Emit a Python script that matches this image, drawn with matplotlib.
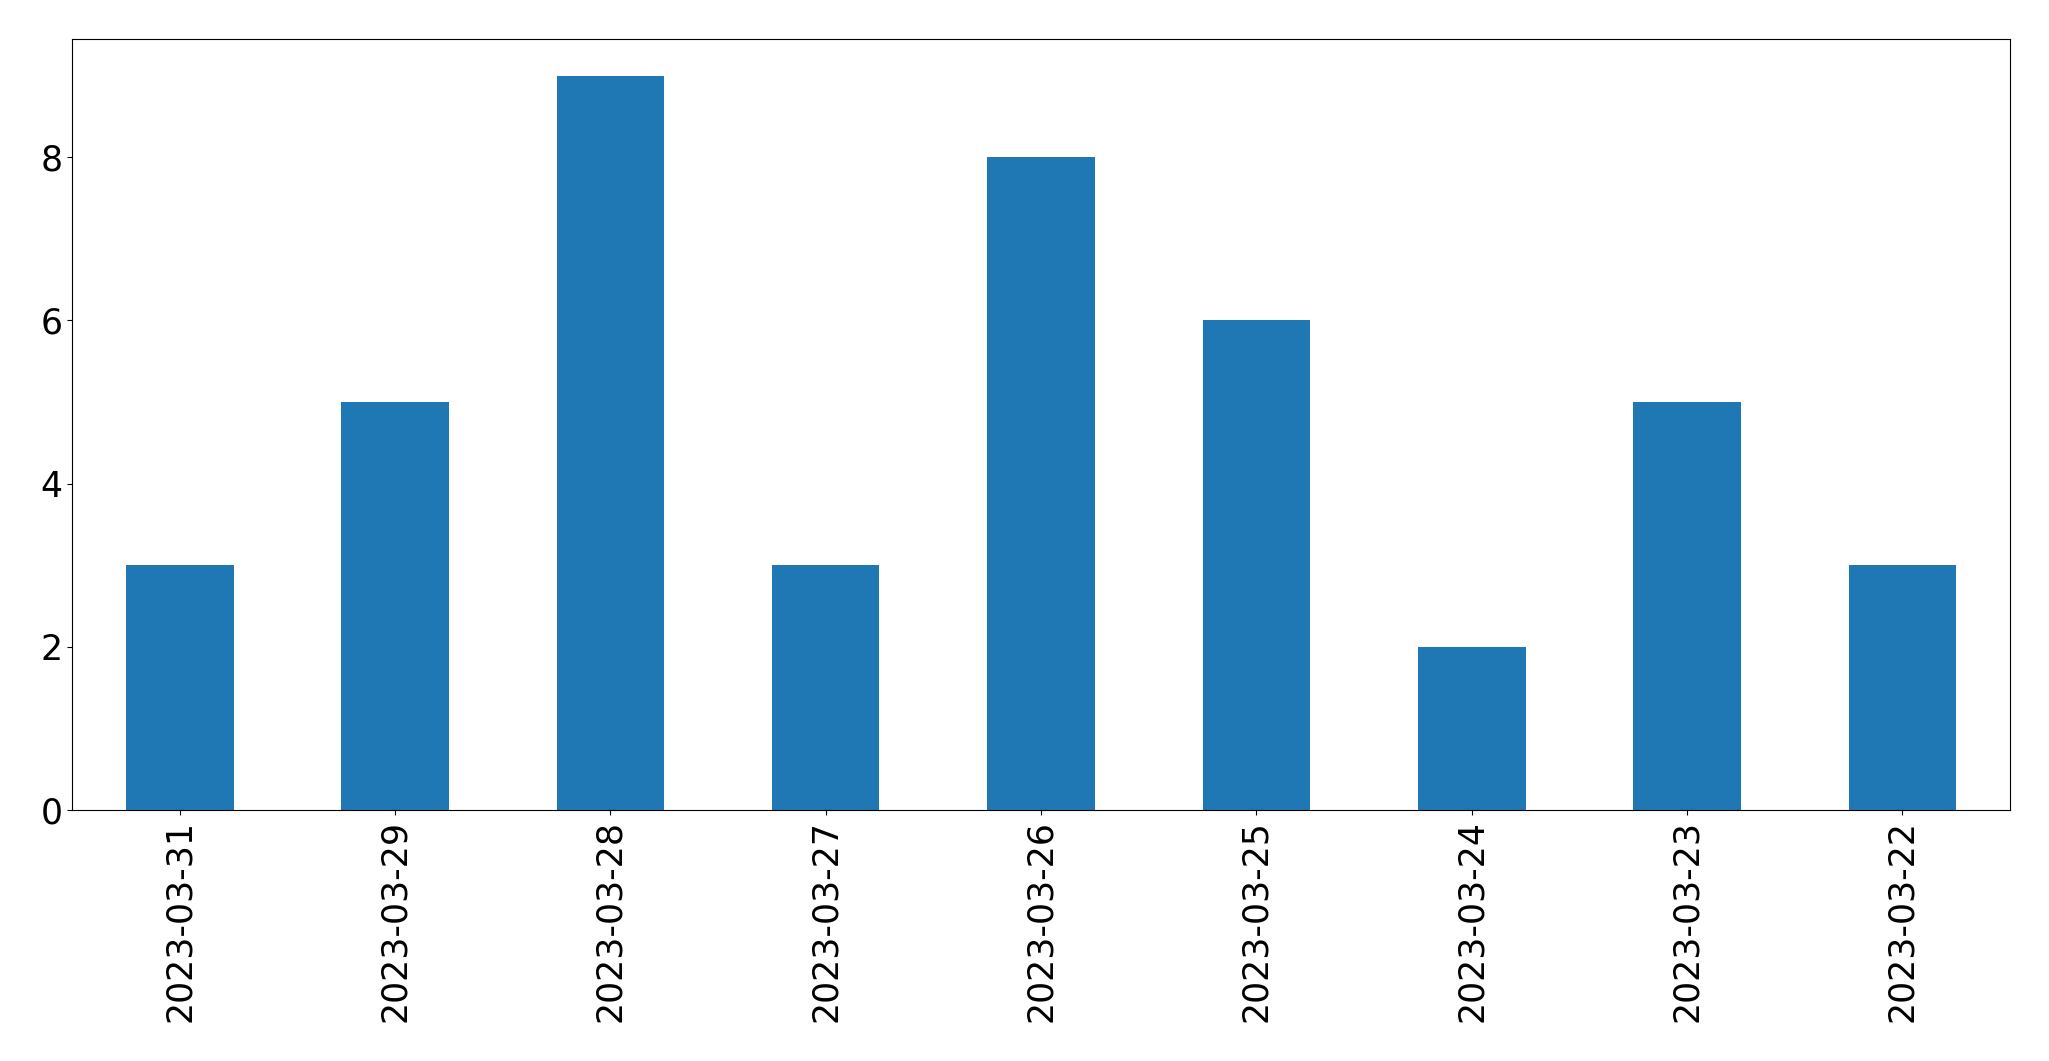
import matplotlib
matplotlib.use("Agg")
import matplotlib.pyplot as plt

dates = ["2023-03-31", "2023-03-29", "2023-03-28", "2023-03-27", "2023-03-26",
         "2023-03-25", "2023-03-24", "2023-03-23", "2023-03-22"]
counts = [3, 5, 9, 3, 8, 6, 2, 5, 3]

fig = plt.figure(figsize=(20.49, 10.61), dpi=100)
ax = fig.add_axes([72/2049, 1 - 810/1061, (2010-72)/2049, (810-39)/1061])
x = list(range(len(dates)))
ax.bar(x, counts, width=0.5, color="#1f77b4")
ax.set_xlim(-0.5, len(dates) - 0.5)
ax.set_ylim(0, 9.45)
ax.set_xticks(x)
ax.set_xticklabels(dates, rotation=90)
ax.set_yticks([0, 2, 4, 6, 8])
ax.tick_params(axis="both", labelsize=25)
fig.savefig("out.png", dpi=100)
